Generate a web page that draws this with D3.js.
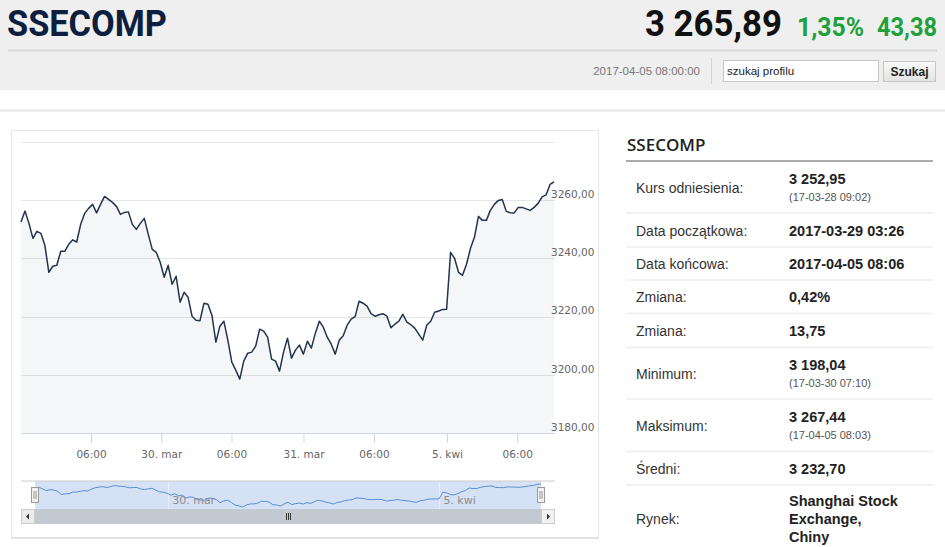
<!DOCTYPE html>
<html>
<head>
<meta charset="utf-8">
<script src="https://cdn.jsdelivr.net/npm/d3@7"></script>
<style>
  body { margin: 0; background: #fff; }
  svg { display: block; }
</style>
</head>
<body>
<div id="page"></div>
<script>
// Series values (SSECOMP, intraday, ordinal trading time)
var values = [
  3252.49, 3256.26, 3252.04, 3246.90, 3249.30, 3248.61, 3244.49, 3235.23, 3237.29, 3237.63,
  3242.44, 3242.44, 3244.84, 3246.38, 3245.63, 3251.70, 3255.47, 3257.19, 3258.56, 3255.64,
  3258.56, 3261.30, 3260.27, 3259.25, 3257.87, 3255.13, 3255.81, 3255.99, 3251.70, 3249.98,
  3252.04, 3253.76, 3248.27, 3243.12, 3242.09, 3238.66, 3233.52, 3237.63, 3231.11, 3233.86,
  3224.94, 3228.37, 3226.66, 3220.14, 3218.77, 3218.59, 3224.60, 3224.25, 3220.48, 3211.22,
  3216.71, 3218.42, 3211.90, 3204.36, 3201.61, 3198.52, 3204.70, 3207.44, 3207.79, 3209.85,
  3215.68, 3214.99, 3212.93, 3205.39, 3204.70, 3201.27, 3207.79, 3212.59, 3205.73, 3208.47,
  3210.19, 3207.10, 3211.56, 3209.16, 3214.31, 3218.42, 3216.36, 3212.93, 3210.53, 3207.10,
  3211.90, 3213.45, 3217.05, 3219.11, 3219.97, 3225.28, 3224.60, 3223.57, 3220.99, 3220.14,
  3220.65, 3220.99, 3220.14, 3216.19, 3217.39, 3218.42, 3220.82, 3218.08, 3217.22, 3216.02,
  3213.96, 3211.90, 3217.05, 3218.42, 3221.51, 3221.92, 3222.47, 3222.54, 3242.09, 3240.03,
  3235.23, 3234.20, 3237.98, 3243.46, 3247.24, 3254.44, 3253.07, 3253.07, 3256.50, 3258.56,
  3259.93, 3260.27, 3256.16, 3255.71, 3255.64, 3257.53, 3257.53, 3257.02, 3256.50, 3257.53,
  3258.90, 3261.13, 3261.82, 3265.42, 3266.28
];

// x axis ticks (positions in sample index units) and labels
var xTickPos = [17.6, 35.27, 52.92, 71.02, 88.74, 107.09, 124.76];
var xTickLabels = ["06:00", "30. mar", "06:00", "31. mar", "06:00", "5. kwi", "06:00"];
var navTickPos = [35.27, 107.09];
var navTickLabels = ["30. mar", "5. kwi"];
var yTicks = [3180, 3200, 3220, 3240, 3260, 3280];
var yLabelTicks = [3180, 3200, 3220, 3240, 3260];

// header texts
var title = "SSECOMP";
var lastPrice = "3 265,89";
var changePct = "1,35%";
var changeAbs = "43,38";
var quoteTime = "2017-04-05 08:00:00";

// side table
var rowLabels = ["Kurs odniesienia:", "Data początkowa:", "Data końcowa:", "Zmiana:", "Zmiana:",
                 "Minimum:", "Maksimum:", "Średni:", "Rynek:"];
var rowValues = [["3 252,95"], ["2017-03-29 03:26"], ["2017-04-05 08:06"], ["0,42%"], ["13,75"],
                 ["3 198,04"], ["3 267,44"], ["3 232,70"], ["Shanghai Stock", "Exchange,", "Chiny"]];
var rowSubs = ["(17-03-28 09:02)", "", "", "", "", "(17-03-30 07:10)", "(17-04-05 08:03)", "", ""];

// page
var W = 945, H = 547;
var svg = d3.select("#page").append("svg").attr("width", W).attr("height", H);
var headFont = "Roboto, 'Open Sans', sans-serif";
var openSans = "'Open Sans', 'DejaVu Sans', sans-serif";
var arial = "'Liberation Sans', Arial, sans-serif";
var narrow = "'Liberation Sans Narrow', 'Liberation Sans', Arial, sans-serif";
var hcFont = "'DejaVu Sans', 'Lucida Grande', sans-serif";

// ---- header ----
svg.append("rect").attr("x", 0).attr("y", 0).attr("width", W).attr("height", 90).attr("fill", "#efefef");
svg.append("line").attr("x1", 8).attr("x2", 937).attr("y1", 50.5).attr("y2", 50.5)
  .attr("stroke", "#d8d8d8").attr("stroke-width", 2);
svg.append("rect").attr("x", 0).attr("y", 109).attr("width", W).attr("height", 3).attr("fill", "#ededed");

svg.append("text").attr("x", 7).attr("y", 35.5)
  .style("font-family", headFont).style("font-weight", 700).style("font-size", "37px")
  .attr("fill", "#0d1e3e").attr("textLength", 160).attr("lengthAdjust", "spacingAndGlyphs").text(title);

svg.append("text").attr("x", 645).attr("y", 36)
  .style("font-family", headFont).style("font-weight", 700).style("font-size", "37px")
  .attr("fill", "#111").attr("textLength", 137).attr("lengthAdjust", "spacingAndGlyphs").text(lastPrice);
svg.append("text").attr("x", 797).attr("y", 35.5)
  .style("font-family", headFont).style("font-weight", 700).style("font-size", "26px")
  .attr("fill", "#20a03a").attr("textLength", 67).attr("lengthAdjust", "spacingAndGlyphs").text(changePct);
svg.append("text").attr("x", 877).attr("y", 35.5)
  .style("font-family", headFont).style("font-weight", 700).style("font-size", "26px")
  .attr("fill", "#20a03a").attr("textLength", 60).attr("lengthAdjust", "spacingAndGlyphs").text(changeAbs);

svg.append("text").attr("x", 700).attr("y", 75).attr("text-anchor", "end")
  .style("font-family", narrow).style("font-size", "11.5px").attr("fill", "#777").text(quoteTime);
svg.append("line").attr("x1", 711.5).attr("x2", 711.5).attr("y1", 58).attr("y2", 84).attr("stroke", "#d4d4d4");
svg.append("rect").attr("x", 723.5).attr("y", 60.5).attr("width", 155).attr("height", 21)
  .attr("fill", "#fff").attr("stroke", "#c9c9c9");
svg.append("text").attr("x", 727).attr("y", 75)
  .style("font-family", arial).style("font-size", "11.5px").attr("fill", "#222").text("szukaj profilu");

var grad = svg.append("defs").append("linearGradient").attr("id", "btn").attr("x1", 0).attr("x2", 0).attr("y1", 0).attr("y2", 1);
grad.append("stop").attr("offset", "0%").attr("stop-color", "#fafafa");
grad.append("stop").attr("offset", "100%").attr("stop-color", "#e2e2e2");
svg.append("rect").attr("x", 883.5).attr("y", 61.5).attr("width", 52).attr("height", 20)
  .attr("fill", "url(#btn)").attr("stroke", "#c6c6c6");
svg.append("text").attr("x", 909.5).attr("y", 76).attr("text-anchor", "middle")
  .style("font-family", narrow).style("font-weight", 700).style("font-size", "12px").attr("fill", "#222").text("Szukaj");

// ---- chart box ----
svg.append("rect").attr("x", 11.5).attr("y", 130.5).attr("width", 587).attr("height", 407)
  .attr("fill", "#fff").attr("stroke", "#e6e6e6");
svg.append("line").attr("x1", 11).attr("x2", 599).attr("y1", 538).attr("y2", 538)
  .attr("stroke", "#e2e2e2").attr("stroke-width", 2);

var x = d3.scaleLinear().domain([0, values.length - 1]).range([21, 554]);
var y = d3.scaleLinear().domain([3180, 3280]).range([433, 142]);
var fmt = d3.formatLocale({decimal: ",", thousands: " ", grouping: [3], currency: ["", ""]}).format(".2f");

var chart = svg.append("g");

// gridlines
chart.append("g").selectAll("line").data(yTicks).enter().append("line")
  .attr("x1", 21).attr("x2", 555)
  .attr("y1", d => Math.round(y(d)) + 0.5).attr("y2", d => Math.round(y(d)) + 0.5)
  .attr("stroke", "#e6e6e6");

// area + line
var area = d3.area().x((d, i) => x(i)).y0(433).y1(d => y(d));
chart.append("path").datum(values).attr("d", area).attr("fill", "#2b4a7a").attr("fill-opacity", 0.05);
var line = d3.line().x((d, i) => x(i)).y(d => y(d));
chart.append("path").datum(values).attr("d", line)
  .attr("fill", "none").attr("stroke", "#22344f").attr("stroke-width", 1.5).attr("stroke-linejoin", "round");

// x axis
var xAxis = d3.axisBottom(x).tickValues(xTickPos).tickFormat((d, i) => xTickLabels[i]).tickSize(10).tickSizeOuter(0);
var gx = chart.append("g").attr("transform", "translate(0,433)").call(xAxis);
gx.select(".domain").attr("stroke", "#ccd6eb").attr("d", "M21,0.5H555");
gx.selectAll(".tick line").attr("stroke", "#ccd6eb");
gx.selectAll(".tick text").attr("y", 18).style("font-family", hcFont).style("font-size", "10.5px").attr("fill", "#666");

// y axis (right side labels)
var yAxis = d3.axisRight(y).tickValues(yLabelTicks).tickFormat(fmt).tickSize(0);
var gy = chart.append("g").attr("transform", "translate(551,0)").call(yAxis);
gy.select(".domain").remove();
gy.selectAll(".tick text").attr("x", 0).attr("dy", "-0.25em").attr("text-anchor", "start")
  .style("font-family", hcFont).style("font-size", "10.5px").attr("fill", "#666");

// ---- navigator ----
var xn = d3.scaleLinear().domain([0, values.length - 1]).range([35, 541]);
var yn = d3.scaleLinear().domain([d3.min(values), d3.max(values)]).range([507, 484]);
var nav = svg.append("g");
nav.append("rect").attr("x", 35).attr("y", 481).attr("width", 506).attr("height", 28).attr("fill", "#d5e2f5");
nav.append("line").attr("x1", 21).attr("x2", 555).attr("y1", 481).attr("y2", 481).attr("stroke", "#cccccc");
nav.append("g").selectAll("line").data(navTickPos).enter().append("line")
  .attr("x1", d => Math.round(xn(d)) + 0.5).attr("x2", d => Math.round(xn(d)) + 0.5)
  .attr("y1", 482).attr("y2", 509).attr("stroke", "#e6eefa");
nav.append("path").datum(values)
  .attr("d", d3.line().x((d, i) => xn(i)).y(d => yn(d)))
  .attr("fill", "none").attr("stroke", "#5a8dd0").attr("stroke-width", 1);
nav.append("g").selectAll("text").data(navTickPos).enter().append("text")
  .attr("x", d => xn(d) + 4).attr("y", 504)
  .style("font-family", hcFont).style("font-size", "11px").attr("fill", "#8c8c8c")
  .text((d, i) => navTickLabels[i]);

// handles
[35, 541].forEach(function(hx) {
  var h = nav.append("g").attr("transform", "translate(" + (hx - 4) + ",487)");
  h.append("rect").attr("x", 0.5).attr("y", 0.5).attr("width", 7).attr("height", 15)
    .attr("fill", "#f2f2f2").attr("stroke", "#999");
  h.append("line").attr("x1", 3).attr("x2", 3).attr("y1", 4).attr("y2", 12).attr("stroke", "#999");
  h.append("line").attr("x1", 5).attr("x2", 5).attr("y1", 4).attr("y2", 12).attr("stroke", "#999");
});

// scrollbar
nav.append("rect").attr("x", 21.5).attr("y", 509.5).attr("width", 533).attr("height", 14)
  .attr("fill", "#f2f2f2").attr("stroke", "#e0e0e0");
nav.append("rect").attr("x", 35).attr("y", 509).attr("width", 506).attr("height", 15).attr("fill", "#c3c9d1");
nav.append("rect").attr("x", 21.5).attr("y", 509.5).attr("width", 13).attr("height", 14)
  .attr("fill", "#ececec").attr("stroke", "#cccccc");
nav.append("rect").attr("x", 541.5).attr("y", 509.5).attr("width", 13).attr("height", 14)
  .attr("fill", "#f2f2f2").attr("stroke", "#cccccc");
nav.append("path").attr("d", "M29,513.5L26,516.5L29,519.5Z").attr("fill", "#333");
nav.append("path").attr("d", "M547,513.5L550,516.5L547,519.5Z").attr("fill", "#333");
[-2, 0, 2].forEach(function(o) {
  nav.append("line").attr("x1", 288 + o + 0.5).attr("x2", 288 + o + 0.5).attr("y1", 513).attr("y2", 520)
    .attr("stroke", "#333");
});

// ---- side panel ----
var side = svg.append("g");
side.append("text").attr("x", 627).attr("y", 151)
  .style("font-family", openSans).style("font-weight", 600).style("font-size", "17px")
  .attr("fill", "#222").text(title);
side.append("line").attr("x1", 626).attr("x2", 933).attr("y1", 161).attr("y2", 161)
  .attr("stroke", "#8f8f8f").attr("stroke-width", 1.5);

var rowBottoms = [213, 247, 280, 313.5, 347.5, 399, 451.5, 485, 547];
var rowTops = [161].concat(rowBottoms.slice(0, -1));
side.append("g").selectAll("line").data(rowBottoms.slice(0, -1)).enter().append("line")
  .attr("x1", 626).attr("x2", 933).attr("y1", d => d).attr("y2", d => d)
  .attr("stroke", "#ececec").attr("stroke-width", 1.5);

rowLabels.forEach(function(lab, i) {
  var cy = (rowTops[i] + rowBottoms[i]) / 2 + 0.5;
  if (i === 8) cy = 519;
  side.append("text").attr("x", 636).attr("y", cy + 5)
    .style("font-family", arial).style("font-size", "14px").attr("fill", "#333").text(lab);
  var vals = rowValues[i];
  var sub = rowSubs[i];
  if (sub) {
    side.append("text").attr("x", 789).attr("y", cy - 9 + 5)
      .style("font-family", arial).style("font-weight", 700).style("font-size", "14.5px")
      .attr("fill", "#222").text(vals[0]);
    side.append("text").attr("x", 789).attr("y", cy + 9 + 4)
      .style("font-family", arial).style("font-size", "11px").attr("fill", "#555").text(sub);
  } else {
    vals.forEach(function(v, j) {
      var vy = cy + (j - (vals.length - 1) / 2) * 17.7;
      side.append("text").attr("x", 789).attr("y", vy + 5)
        .style("font-family", arial).style("font-weight", 700).style("font-size", "14.5px")
        .attr("fill", "#222").text(v);
    });
  }
});
</script>
</body>
</html>
